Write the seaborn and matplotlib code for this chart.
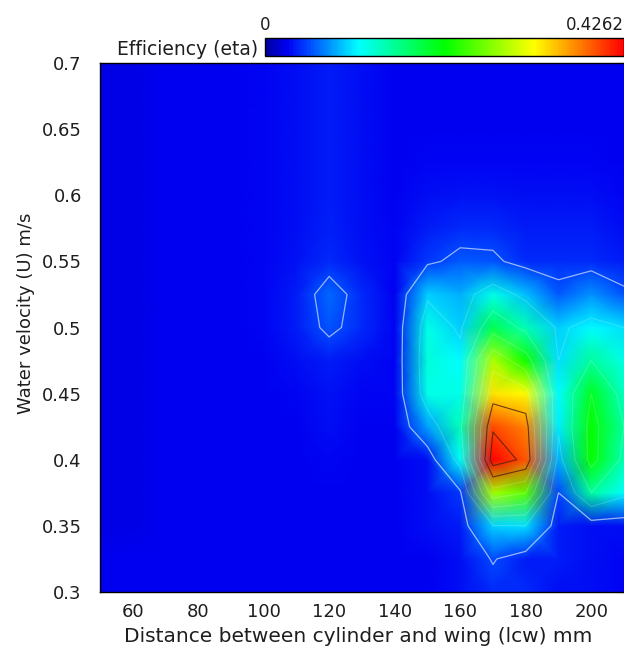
import numpy as np
import pandas as pd
import matplotlib
matplotlib.use("Agg")
import matplotlib.pyplot as plt
import seaborn as sns
from matplotlib.colors import LinearSegmentedColormap

# === Data (efficiency on a lcw x U grid) ===
lcw = [50, 60, 70, 80, 90, 100, 110, 120, 130, 140, 150, 160, 170, 180, 190, 200, 210]
velocity = [0.300, 0.325, 0.350, 0.375, 0.400, 0.425, 0.450, 0.475, 0.500,
            0.525, 0.550, 0.575, 0.600, 0.625, 0.650, 0.675, 0.700]

# one row per velocity (bottom to top), one column per lcw
eta = [
    [.025, .025, .025, .025, .025, .025, .025, .025, .025, .025, .025, .030, .040, .040, .030, .030, .028],
    [.025, .025, .025, .025, .025, .025, .025, .025, .025, .025, .025, .030, .052, .035, .035, .030, .028],
    [.022, .022, .025, .025, .025, .025, .025, .025, .025, .025, .030, .035, .098, .100, .035, .030, .030],
    [.022, .022, .025, .025, .025, .025, .025, .025, .025, .025, .030, .045, .280, .250, .050, .150, .110],
    [.022, .022, .025, .025, .025, .025, .025, .028, .025, .025, .030, .115, .4262, .390, .085, .215, .140],
    [.022, .022, .025, .025, .025, .025, .025, .030, .025, .025, .080, .140, .395, .370, .105, .215, .150],
    [.022, .022, .025, .025, .025, .025, .028, .032, .028, .028, .120, .120, .330, .320, .110, .200, .135],
    [.022, .022, .025, .025, .025, .025, .030, .035, .030, .028, .125, .110, .285, .220, .100, .150, .120],
    [.022, .022, .025, .025, .025, .028, .035, .056, .040, .028, .120, .095, .180, .140, .095, .110, .100],
    [.022, .022, .025, .025, .025, .028, .035, .062, .040, .025, .095, .085, .120, .090, .058, .075, .055],
    [.022, .022, .025, .025, .025, .028, .032, .040, .032, .028, .045, .057, .055, .040, .040, .040, .035],
    [.022, .022, .025, .025, .025, .028, .030, .038, .030, .028, .035, .040, .040, .035, .035, .035, .030],
    [.022, .022, .025, .025, .025, .028, .030, .036, .030, .025, .030, .032, .032, .030, .030, .030, .028],
    [.022, .022, .025, .025, .025, .028, .030, .036, .030, .025, .028, .028, .028, .028, .028, .028, .025],
    [.022, .022, .025, .025, .025, .028, .030, .035, .030, .025, .025, .025, .025, .025, .025, .025, .025],
    [.022, .022, .025, .025, .025, .028, .030, .035, .030, .025, .025, .025, .025, .025, .025, .025, .025],
    [.022, .022, .025, .025, .025, .028, .030, .035, .030, .025, .025, .025, .025, .025, .025, .025, .025],
]

eta_max = 0.4262
x_ticks = [60, 80, 100, 120, 140, 160, 180, 200]
y_ticks = [0.3, 0.35, 0.4, 0.45, 0.5, 0.55, 0.6, 0.65, 0.7]
light_levels = [0.05, 0.1, 0.15, 0.2, 0.25, 0.3]
dark_levels = [0.35, 0.4]

df = pd.DataFrame(eta, index=velocity, columns=lcw)

# === Colormap (blue -> cyan -> green -> yellow -> red) ===
cmap = LinearSegmentedColormap.from_list("eff", [
    (0.00, (0.0, 0.0, 0.62)),
    (0.06, (0.0, 0.0, 0.95)),
    (0.12, (0.0, 0.28, 1.0)),
    (0.26, (0.0, 1.0, 1.0)),
    (0.50, (0.0, 1.0, 0.0)),
    (0.75, (1.0, 1.0, 0.0)),
    (1.00, (1.0, 0.0, 0.0)),
])

sns.set_style("white")
plt.rcParams["font.family"] = ["DejaVu Sans"]
txt = "#1e1e1e"

fig = plt.figure(figsize=(6.24, 6.55), dpi=100)
ax = fig.add_axes([0.160, 0.0962, 0.840, 0.8076])

sns.heatmap(df, cmap=cmap, vmin=0, vmax=eta_max, cbar=False, ax=ax,
            shading="gouraud", xticklabels=False, yticklabels=False)

nx, ny = len(lcw), len(velocity)
ax.set_xlim(0, nx - 1)
ax.set_ylim(0, ny - 1)

# contour lines on the same index grid
gx, gy = np.arange(nx), np.arange(ny)
ax.contour(gx, gy, df.values, levels=light_levels[:1], colors="white",
           linewidths=0.9, alpha=0.6)
ax.contour(gx, gy, df.values, levels=light_levels[1:], colors="white",
           linewidths=0.7, alpha=0.2)
ax.contour(gx, gy, df.values, levels=dark_levels, colors="#4a2010",
           linewidths=0.8, alpha=0.8)

# ticks in data units mapped to grid index
step_x = lcw[1] - lcw[0]
step_y = velocity[1] - velocity[0]
ax.set_xticks([(v - lcw[0]) / step_x for v in x_ticks])
ax.set_xticklabels([str(v) for v in x_ticks])
ax.set_yticks([(v - velocity[0]) / step_y for v in y_ticks])
ax.set_yticklabels([f"{v:g}" for v in y_ticks], rotation=0)
ax.tick_params(axis="both", direction="in", length=5, width=0.8, color="black",
               labelsize=13, labelcolor=txt, top=True, right=True)
ax.tick_params(axis="x", pad=8)
ax.tick_params(axis="y", pad=13)

for name, s in ax.spines.items():
    s.set_visible(name != "right")
    s.set_color("black")
    s.set_linewidth(1.0)

ax.set_xlabel("Distance between cylinder and wing (lcw) mm", fontsize=14.5, color=txt)
ax.set_ylabel("Water velocity (U) m/s", fontsize=13, color=txt)
ax.xaxis.set_label_coords(0.492, -0.066)
ax.yaxis.set_label_coords(-0.124, 0.527)

# === Horizontal colorbar on top ===
cax = fig.add_axes([0.4247, 0.9145, 0.5753, 0.028])
cb = fig.colorbar(ax.collections[0], cax=cax, orientation="horizontal")
cb.set_ticks([])
cb.outline.set_linewidth(1.0)
cb.outline.set_edgecolor("black")
cax.text(0.0, 1.2, "0", transform=cax.transAxes, ha="center", va="bottom",
         fontsize=12, color=txt)
cax.text(1.0, 1.2, f"{eta_max}", transform=cax.transAxes, ha="right", va="bottom",
         fontsize=12, color=txt)
cax.text(-0.02, 0.35, "Efficiency (eta)", transform=cax.transAxes, ha="right",
         va="center", fontsize=13.5, color=txt)

fig.savefig("out.png", dpi=100)
